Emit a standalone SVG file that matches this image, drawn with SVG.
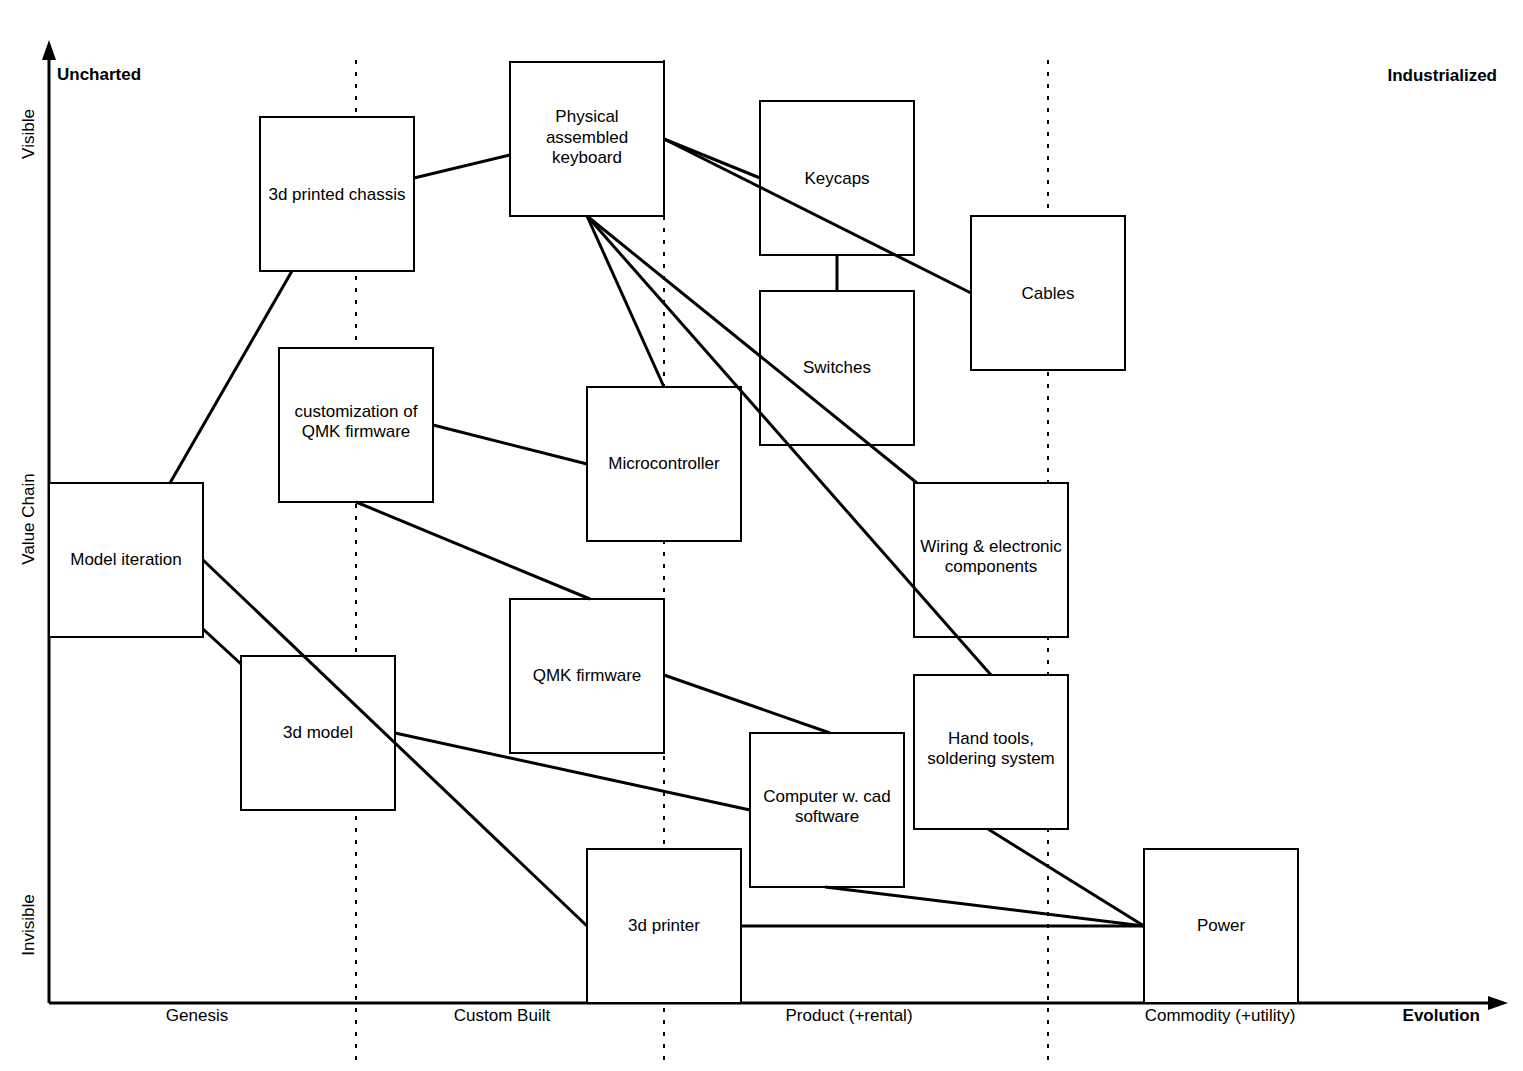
<svg xmlns="http://www.w3.org/2000/svg" width="1523" height="1071" viewBox="0 0 1523 1071">
<style>
.box{fill:#fff;stroke:#000;stroke-width:2}
.t{font-family:"Liberation Sans",Arial,sans-serif;font-size:17px;fill:#000;text-anchor:middle}
.b{font-family:"Liberation Sans",Arial,sans-serif;font-size:17px;font-weight:bold;fill:#000}
.dash{stroke:#000;stroke-width:2;stroke-dasharray:4 8}
.c{stroke:#000;stroke-width:3;fill:none}
</style>
<rect width="1523" height="1071" fill="#fff"/>
<g id="grid">
<line class="dash" x1="356" y1="60" x2="356" y2="1068"/>
<line class="dash" x1="664" y1="60" x2="664" y2="1068"/>
<line class="dash" x1="1048" y1="60" x2="1048" y2="1068"/>
</g>
<g id="axes">
<line x1="49" y1="1003" x2="49" y2="56" stroke="#000" stroke-width="3"/>
<polygon points="49,40 42,60 56,60" fill="#000"/>
<line x1="49" y1="1003" x2="1492" y2="1003" stroke="#000" stroke-width="3"/>
<polygon points="1508,1003 1488,996 1488,1010" fill="#000"/>
<text class="b" x="57" y="80">Uncharted</text>
<text class="b" x="1497" y="81" text-anchor="end">Industrialized</text>
<text class="b" x="1480" y="1021" text-anchor="end">Evolution</text>
<text class="t" x="197" y="1021">Genesis</text>
<text class="t" x="502" y="1021">Custom Built</text>
<text class="t" x="849" y="1021">Product (+rental)</text>
<text class="t" x="1220" y="1021">Commodity (+utility)</text>
<text class="t" transform="translate(34,134) rotate(-90)">Visible</text>
<text class="t" transform="translate(34,519) rotate(-90)">Value Chain</text>
<text class="t" transform="translate(34,925) rotate(-90)">Invisible</text>
</g>
<g id="n-chassis"><rect class="box" x="260" y="117" width="154" height="154"/><text class="t" x="337" y="200">3d printed chassis</text></g>
<g id="n-keyboard"><rect class="box" x="510" y="62" width="154" height="154"/><text class="t" x="587" y="122">Physical</text><text class="t" x="587" y="143">assembled</text><text class="t" x="587" y="163">keyboard</text></g>
<g id="n-keycaps"><rect class="box" x="760" y="101" width="154" height="154"/><text class="t" x="837" y="184">Keycaps</text></g>
<g id="n-switches"><rect class="box" x="760" y="291" width="154" height="154"/><text class="t" x="837" y="373">Switches</text></g>
<g id="n-cables"><rect class="box" x="971" y="216" width="154" height="154"/><text class="t" x="1048" y="299">Cables</text></g>
<g id="n-custqmk"><rect class="box" x="279" y="348" width="154" height="154"/><text class="t" x="356" y="417">customization of</text><text class="t" x="356" y="437">QMK firmware</text></g>
<g id="n-micro"><rect class="box" x="587" y="387" width="154" height="154"/><text class="t" x="664" y="469">Microcontroller</text></g>
<g id="n-model"><rect class="box" x="49" y="483" width="154" height="154"/><text class="t" x="126" y="565">Model iteration</text></g>
<g id="n-wiring"><rect class="box" x="914" y="483" width="154" height="154"/><text class="t" x="991" y="552">Wiring &amp; electronic</text><text class="t" x="991" y="572">components</text></g>
<g id="n-qmk"><rect class="box" x="510" y="599" width="154" height="154"/><text class="t" x="587" y="681">QMK firmware</text></g>
<g id="n-3dmodel"><rect class="box" x="241" y="656" width="154" height="154"/><text class="t" x="318" y="738">3d model</text></g>
<g id="n-handtools"><rect class="box" x="914" y="675" width="154" height="154"/><text class="t" x="991" y="744">Hand tools,</text><text class="t" x="991" y="764">soldering system</text></g>
<g id="n-computer"><rect class="box" x="750" y="733" width="154" height="154"/><text class="t" x="827" y="802">Computer w. cad</text><text class="t" x="827" y="822">software</text></g>
<g id="n-printer"><rect class="box" x="587" y="849" width="154" height="154"/><text class="t" x="664" y="931">3d printer</text></g>
<g id="n-power"><rect class="box" x="1144" y="849" width="154" height="154"/><text class="t" x="1221" y="931">Power</text></g>
<g id="connectors">
<line class="c" x1="292" y1="271" x2="170" y2="483"/>
<line class="c" x1="414" y1="178" x2="510" y2="155"/>
<line class="c" x1="664" y1="139" x2="760" y2="178"/>
<line class="c" x1="664" y1="139" x2="971" y2="293"/>
<line class="c" x1="837" y1="255" x2="837" y2="291"/>
<line class="c" x1="587" y1="216" x2="664" y2="387"/>
<line class="c" x1="587" y1="216" x2="917" y2="483"/>
<line class="c" x1="587" y1="216" x2="991" y2="675"/>
<line class="c" x1="433" y1="425" x2="587" y2="464"/>
<line class="c" x1="356" y1="502" x2="590" y2="599"/>
<line class="c" x1="203" y1="560" x2="587" y2="926"/>
<line class="c" x1="203" y1="629" x2="241" y2="664"/>
<line class="c" x1="395" y1="733" x2="750" y2="810"/>
<line class="c" x1="664" y1="675" x2="830" y2="733"/>
<line class="c" x1="825" y1="887" x2="1144" y2="926"/>
<line class="c" x1="741" y1="926" x2="1144" y2="926" stroke-width="3.5"/>
<line class="c" x1="988" y1="829" x2="1144" y2="926"/>
</g>
</svg>
